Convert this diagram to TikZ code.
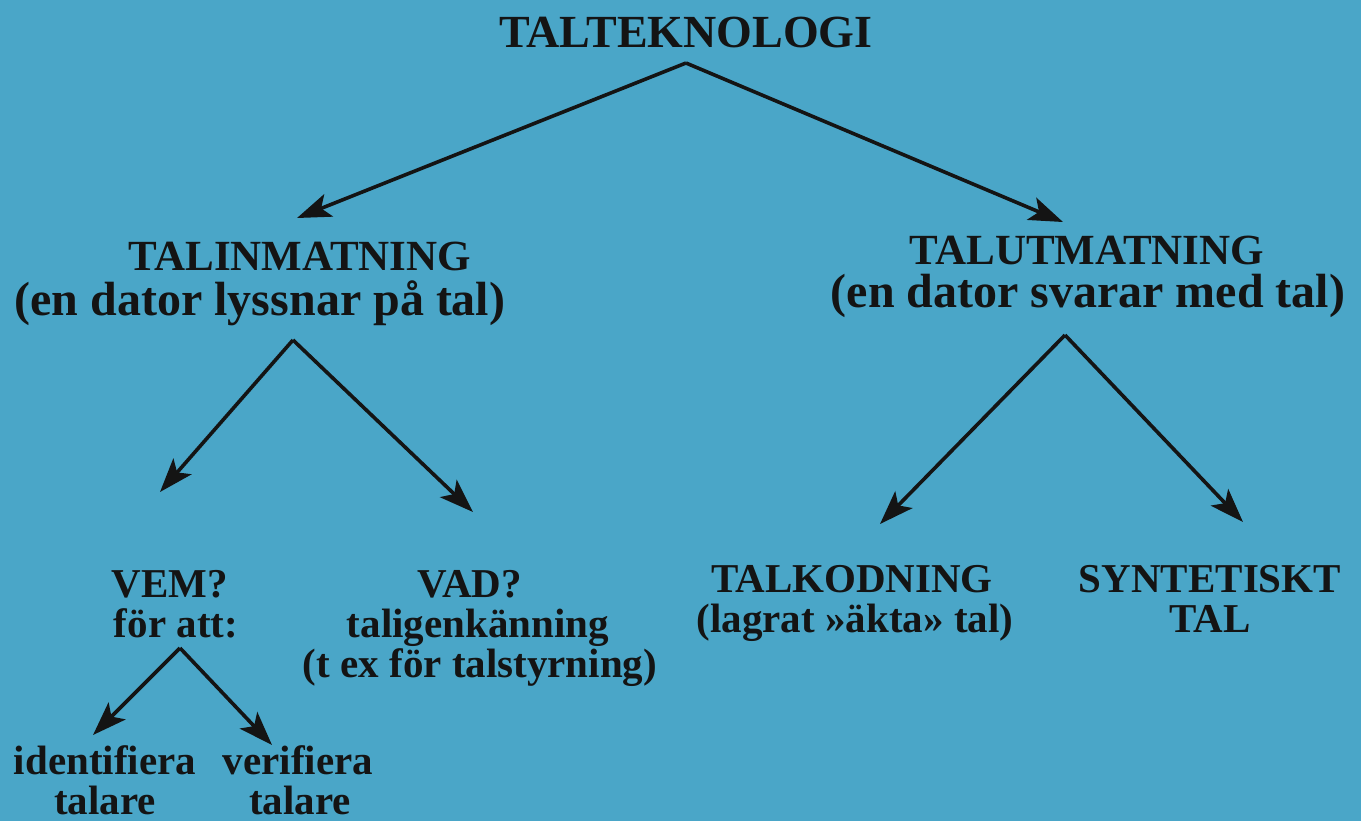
\documentclass[tikz,border=0pt]{standalone}
\usepackage{fontspec}
\setmainfont{Liberation Serif}
\usetikzlibrary{arrows.meta,calc}
\definecolor{bgblue}{HTML}{4AA6C8}
\definecolor{ink}{HTML}{141414}
\begin{document}
\begin{tikzpicture}[x=0.5pt,y=-0.5pt,
  txt/.style={anchor=base,inner sep=0pt,text=ink,font=\bfseries},
  topf/.style={txt,font=\bfseries\fontsize{23}{27}\selectfont},
  midf/.style={txt,font=\bfseries\fontsize{21.5}{25}\selectfont},
  midl/.style={txt,font=\bfseries\fontsize{24}{28}\selectfont},
  lowf/.style={txt,font=\bfseries\fontsize{20.5}{24}\selectfont},
  arr/.style={draw=ink,line width=1.8pt,-{Stealth[length=17pt,width=12pt,inset=4pt]}}]
\fill[bgblue] (0,0) rectangle (1361,821);
\useasboundingbox (0,0) rectangle (1361,821);
% nodes
\node[topf] (top) at (686,47) {TALTEKNOLOGI};
\node[midf] (tin1) at (300,270) {TALINMATNING};
\node[midl] (tin2) at (260,315) {(en dator lyssnar på tal)};
\node[midf] (tut1) at (1087,264) {TALUTMATNING};
\node[midl] (tut2) at (1088,307) {(en dator svarar med tal)};
\node[lowf] (vem1) at (170,597) {VEM?};
\node[lowf] (vem2) at (176,637) {för att:};
\node[lowf] (vad1) at (470,597) {VAD?};
\node[lowf] (vad2) at (478,637) {taligenkänning};
\node[lowf] (vad3) at (480,677) {(t ex för talstyrning)};
\node[lowf] (tk1) at (852,592) {TALKODNING};
\node[lowf] (tk2) at (855,632) {(lagrat »äkta» tal)};
\node[lowf] (syn1) at (1210,592) {SYNTETISKT};
\node[lowf] (syn2) at (1210,632) {TAL};
\node[lowf] (id1) at (105,774) {identifiera};
\node[lowf] (id2) at (105,814) {talare};
\node[lowf] (ver1) at (298,774) {verifiera};
\node[lowf] (ver2) at (300,814) {talare};
% connectors
\draw[arr] ($(top.base)+(0,16)$) -- ($(tin1.base)+(-3,-52)$);
\draw[arr] ($(top.base)+(0,16)$) -- ($(tut1.base)+(-24,-42)$);
\draw[arr] ($(tin2.base)+(33,25)$) -- ($(vem1.base)+(-10,-105)$);
\draw[arr] ($(tin2.base)+(33,25)$) -- ($(vad1.base)+(3,-85)$);
\draw[arr] ($(tut2.base)+(-23,28)$) -- ($(tk1.base)+(28,-68)$);
\draw[arr] ($(tut2.base)+(-23,28)$) -- ($(syn1.base)+(33,-70)$);
\draw[arr] ($(vem2.base)+(4,11)$) -- ($(id1.base)+(-12,-39)$);
\draw[arr] ($(vem2.base)+(4,11)$) -- ($(ver1.base)+(-26,-29)$);
\end{tikzpicture}
\end{document}
